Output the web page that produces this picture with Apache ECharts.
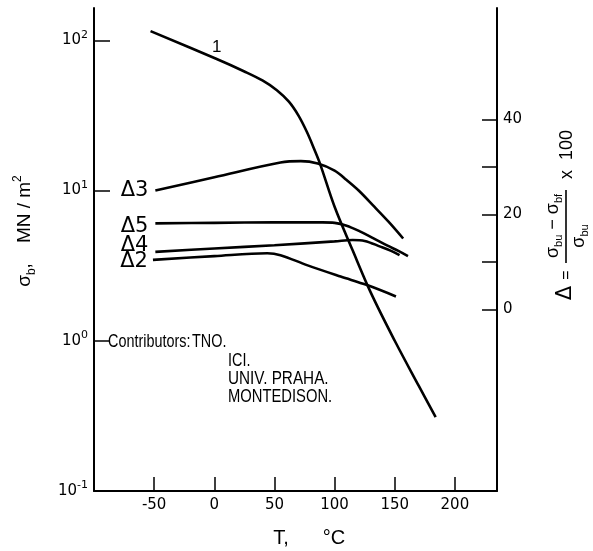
<!DOCTYPE html>
<html><head><meta charset="utf-8">
<script src="https://cdn.jsdelivr.net/npm/echarts@6/dist/echarts.min.js"></script>
<style>html,body{margin:0;padding:0;background:#fff}#c{width:593px;height:551px}</style>
</head><body><div id="c"></div>
<script>
// ---- data ----
const xTicks = [-50, 0, 50, 100, 150, 200];
const sigmaTicks = [0.1, 1, 10, 100];
const deltaTicks = [0, 10, 20, 30, 40];
const deltaLabels = [0, 20, 40];

// curve 1: sigma_b (MN/m^2, log axis) vs T
const curve1T = [-53, 2, 25, 40, 52, 62, 70, 77, 83, 88, 100, 115, 130, 150, 170, 184];
const curve1Sigma = [115, 75, 62, 54, 46.5, 39, 31.5, 24.5, 18.9, 15.0, 7.8, 4.0, 2.1, 1.0, 0.50, 0.31];

// Delta curves (right axis, %)
const d3T = [-49, 0, 55, 72, 86, 100, 110, 120, 133, 145, 157];
const d3V = [25.0, 27.8, 30.9, 31.2, 30.7, 29.2, 27.2, 25.0, 21.6, 18.4, 14.9];
const d5T = [-49, 0, 50, 90, 100, 110, 121, 132, 144, 153, 161];
const d5V = [18.1, 18.2, 18.3, 18.3, 18.2, 17.6, 16.4, 15.0, 13.4, 12.3, 11.2];
const d4T = [-49, 0, 50, 100, 115, 125, 138, 147, 154];
const d4V = [12.1, 12.8, 13.5, 14.3, 14.6, 14.4, 13.2, 12.3, 11.4];
const d2T = [-51, 0, 44, 55, 77, 105, 127, 151];
const d2V = [10.4, 11.2, 11.8, 11.4, 9.3, 6.9, 5.1, 2.7];

const curveNames = ['1', 'Δ3', 'Δ5', 'Δ4', 'Δ2'];
const contributorsHead = 'Contributors:';
const contributors = ['TNO.', 'ICI.', 'UNIV. PRAHA.', 'MONTEDISON.'];

// ---- chart ----
const FONT = '"Liberation Sans", Arial, sans-serif';
const TFONT = '"DejaVu Sans", sans-serif';
const chart = echarts.init(document.getElementById('c'));

function zip(a, b) { return a.map((t, i) => [t, b[i]]); }
function withFirstLabel(pts, text, offset) {
  return pts.map((p, i) => i === 0 ? {
    value: p,
    label: { show: true, position: 'left', distance: 7, offset: offset, formatter: text,
             fontSize: 21, fontFamily: TFONT, color: '#000' }
  } : p);
}
const lineBase = {
  type: 'line', smooth: 0.35, showSymbol: true, symbol: 'circle', symbolSize: 0,
  lineStyle: { color: '#000', width: 2.6 }, itemStyle: { color: '#000' },
  label: { show: false }, emphasis: { disabled: true }, silent: true, animation: false
};

const c1 = zip(curve1T, curve1Sigma).map(p => p[0] === 2 ? {
  value: p, label: { show: true, position: 'top', distance: 3, formatter: curveNames[0],
  fontSize: 17, fontFamily: FONT, color: '#000' } } : p);

const option = {
  backgroundColor: '#fff',
  animation: false,
  grid: { left: 94, right: 96, top: 8, bottom: 60, containLabel: false },
  xAxis: {
    type: 'value', min: -100, max: 235,
    axisLine: { show: true, onZero: false, lineStyle: { color: '#000', width: 2 } },
    axisTick: { show: true, inside: true, length: 14, customValues: xTicks, lineStyle: { color: '#000', width: 1.5 } },
    axisLabel: { customValues: xTicks, margin: 7, fontSize: 15, fontFamily: TFONT, color: '#000',
                 formatter: v => (v < 0 ? '-' + Math.abs(v) : String(v)) },
    splitLine: { show: false }
  },
  yAxis: [
    {
      type: 'log', logBase: 10, min: 0.1, max: 164, position: 'left',
      axisLine: { show: true, onZero: false, lineStyle: { color: '#000', width: 2 } },
      axisTick: { show: true, inside: true, length: 16, customValues: sigmaTicks, lineStyle: { color: '#000', width: 1.5 } },
      axisLabel: {
        customValues: sigmaTicks, margin: 6, color: '#000',
        formatter: v => '{b|10}{s|' + Math.round(Math.log10(v)) + '}',
        rich: {
          b: { fontSize: 15, fontFamily: TFONT, color: '#000', lineHeight: 22 },
          s: { fontSize: 11, fontFamily: TFONT, color: '#000', lineHeight: 11, verticalAlign: 'top' }
        }
      },
      splitLine: { show: false }, minorTick: { show: false }
    },
    {
      type: 'value', min: -38.25, max: 63.43, position: 'right',
      axisLine: { show: true, onZero: false, lineStyle: { color: '#000', width: 2 } },
      axisTick: { show: true, inside: true, length: 15, customValues: deltaTicks, lineStyle: { color: '#000', width: 1.5 } },
      axisLabel: { customValues: deltaLabels, margin: 6, fontSize: 15, fontFamily: TFONT, color: '#000' },
      splitLine: { show: false }
    }
  ],
  series: [
    Object.assign({}, lineBase, { name: curveNames[0], yAxisIndex: 0, data: c1 }),
    Object.assign({}, lineBase, { name: curveNames[1], yAxisIndex: 1, data: withFirstLabel(zip(d3T, d3V), curveNames[1], [0, 0]) }),
    Object.assign({}, lineBase, { name: curveNames[2], yAxisIndex: 1, data: withFirstLabel(zip(d5T, d5V), curveNames[2], [0, 3]) }),
    Object.assign({}, lineBase, { name: curveNames[3], yAxisIndex: 1, data: withFirstLabel(zip(d4T, d4V), curveNames[3], [0, -6]) }),
    Object.assign({}, lineBase, { name: curveNames[4], yAxisIndex: 1, data: withFirstLabel(zip(d2T, d2V), curveNames[4], [2, 2]) })
  ],
  graphic: [
    // left axis title
    { type: 'text', x: 25, y: 231, rotation: Math.PI / 2, silent: true,
      style: { text: '{s|σ}{sb|b}{s|,}      {s|MN / m}{sp|2}', align: 'center', verticalAlign: 'middle',
        textAlign: 'center', textVerticalAlign: 'middle', fill: '#000',
        rich: {
          s: { fontSize: 19, fontFamily: FONT, fill: '#000', lineHeight: 26 },
          sb: { fontSize: 12, fontFamily: FONT, fill: '#000', lineHeight: 12, verticalAlign: 'bottom' },
          sp: { fontSize: 12, fontFamily: FONT, fill: '#000', lineHeight: 12, verticalAlign: 'top' }
        } } },
    // x axis title
    { type: 'text', x: 281, y: 538, silent: true,
      style: { text: 'T,', font: '20px ' + FONT, fill: '#000', align: 'center', verticalAlign: 'middle', textAlign: 'center', textVerticalAlign: 'middle' } },
    { type: 'text', x: 334, y: 538, silent: true,
      style: { text: '°C', font: '20px ' + FONT, fill: '#000', align: 'center', verticalAlign: 'middle', textAlign: 'center', textVerticalAlign: 'middle' } },
    // right axis title
    { type: 'group', x: 566, y: 226, rotation: Math.PI / 2, silent: true, children: [
      { type: 'text', x: -67, y: 0,
        style: { text: 'Δ', font: '21px ' + TFONT, fill: '#000', align: 'center', verticalAlign: 'middle', textAlign: 'center', textVerticalAlign: 'middle' } },
      { type: 'text', x: -49, y: 1,
        style: { text: '=', font: '16px ' + FONT, fill: '#000', align: 'center', verticalAlign: 'middle', textAlign: 'center', textVerticalAlign: 'middle' } },
      { type: 'line', shape: { x1: -37, y1: 0, x2: 36, y2: 0 }, style: { stroke: '#000', lineWidth: 1.6 } },
      { type: 'text', x: 0, y: -2,
        style: { text: '{s|σ}{b|bu}{s| − σ}{b|bf}', align: 'center', verticalAlign: 'bottom', textAlign: 'center', textVerticalAlign: 'bottom', fill: '#000',
          rich: {
            s: { fontSize: 18, fontFamily: FONT, fill: '#000', lineHeight: 22 },
            b: { fontSize: 11, fontFamily: FONT, fill: '#000', lineHeight: 10, verticalAlign: 'bottom' }
          } } },
      { type: 'text', x: -10, y: 2,
        style: { text: '{s|σ}{b|bu}', align: 'center', verticalAlign: 'top', textAlign: 'center', textVerticalAlign: 'top', fill: '#000',
          rich: {
            s: { fontSize: 18, fontFamily: FONT, fill: '#000', lineHeight: 22 },
            b: { fontSize: 11, fontFamily: FONT, fill: '#000', lineHeight: 10, verticalAlign: 'bottom' }
          } } },
      { type: 'text', x: 47, y: 1,
        style: { text: 'x  100', font: '18px ' + FONT, fill: '#000', align: 'left', verticalAlign: 'middle', textAlign: 'left', textVerticalAlign: 'middle' } }
    ] },
    // contributors block
    { type: 'text', x: 108, y: 342, scaleX: 0.8, silent: true,
      style: { text: contributorsHead, font: '18px ' + FONT, fill: '#000', align: 'left', verticalAlign: 'middle', textAlign: 'left', textVerticalAlign: 'middle' } },
    { type: 'text', x: 192, y: 342, scaleX: 0.8, silent: true,
      style: { text: contributors[0], font: '18px ' + FONT, fill: '#000', align: 'left', verticalAlign: 'middle', textAlign: 'left', textVerticalAlign: 'middle' } },
    { type: 'text', x: 228, y: 361, scaleX: 0.8, silent: true,
      style: { text: contributors[1], font: '18px ' + FONT, fill: '#000', align: 'left', verticalAlign: 'middle', textAlign: 'left', textVerticalAlign: 'middle' } },
    { type: 'text', x: 228, y: 379, scaleX: 0.85, silent: true,
      style: { text: contributors[2], font: '18px ' + FONT, fill: '#000', align: 'left', verticalAlign: 'middle', textAlign: 'left', textVerticalAlign: 'middle' } },
    { type: 'text', x: 228, y: 397, scaleX: 0.82, silent: true,
      style: { text: contributors[3], font: '18px ' + FONT, fill: '#000', align: 'left', verticalAlign: 'middle', textAlign: 'left', textVerticalAlign: 'middle' } }
  ]
};
chart.setOption(option);
</script>
</body></html>
